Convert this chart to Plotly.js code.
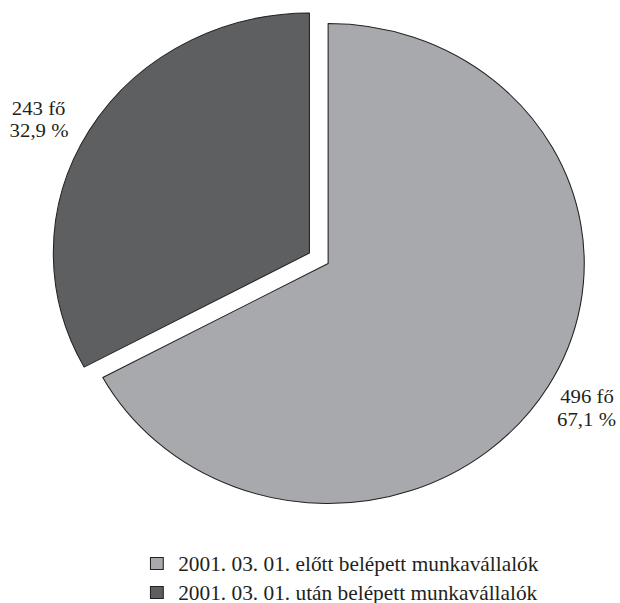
<!DOCTYPE html>
<html>
<head>
<meta charset="utf-8">
<script src="https://cdn.plot.ly/plotly-3.0.1.min.js"></script>
<style>
  html, body { margin: 0; padding: 0; background: #fff; overflow: hidden; }
  #chart { width: 581px; height: 603px; transform: scaleX(1.0671); transform-origin: 0 0; }
</style>
</head>
<body>
<div id="chart"></div>
<script>
// Data
const categories = [
  "2001. 03. 01. előtt belépett munkavállalók",
  "2001. 03. 01. után belépett munkavállalók"
];
const counts = [496, 243];
const percentLabels = ["67,1 %", "32,9 %"];
const unit = "fő";
const colors = ["#a7a9ac", "#5e5f61"];
const pulls = [0, 0.085];

// label positions (paper coords): [x, y of first line, y of second line]
const labelPos = [
  [0.946, 0.3421, 0.3051],
  [0.0621, 0.8204, 0.7844]
];

const FONT = "Liberation Serif";
const TEXT_COLOR = "#231f20";

const trace = {
  type: "pie",
  labels: categories,
  values: counts,
  sort: false,
  direction: "clockwise",
  rotation: 0,
  pull: pulls,
  textinfo: "none",
  hoverinfo: "label+value+percent",
  marker: { colors: colors, line: { color: "#222222", width: 1 } },
  domain: { x: [0.081, 0.9775], y: [0.1312, 0.9949] }
};

const annotations = [];
counts.forEach((v, i) => {
  const lines = [v + " " + unit, percentLabels[i]];
  lines.forEach((t, j) => {
    annotations.push({
      xref: "paper", yref: "paper",
      x: labelPos[i][0], y: labelPos[i][1 + j],
      xanchor: "center", yanchor: "middle",
      text: t,
      showarrow: false,
      font: { family: FONT, size: 19.5, color: TEXT_COLOR }
    });
  });
});

const layout = {
  width: 581, height: 603,
  margin: { l: 0, r: 0, t: 0, b: 0, autoexpand: false },
  paper_bgcolor: "#ffffff",
  showlegend: true,
  legend: {
    orientation: "v",
    x: 0.2186, xanchor: "left",
    y: 0.0415, yanchor: "middle",
    font: { family: FONT, size: 20, color: TEXT_COLOR },
    bgcolor: "rgba(0,0,0,0)",
    traceorder: "normal"
  },
  annotations: annotations,
  font: { family: FONT }
};

Plotly.newPlot("chart", [trace], layout, { displayModeBar: false, staticPlot: true });
</script>
</body>
</html>
